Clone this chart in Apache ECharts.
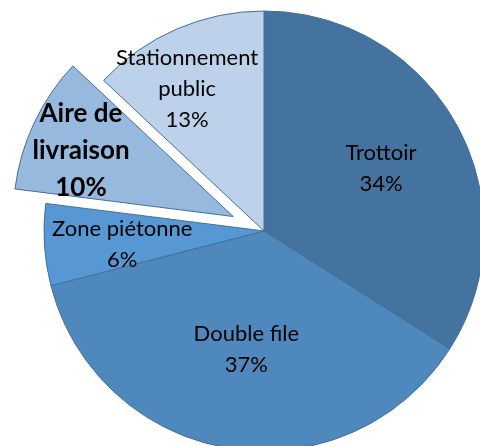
<!DOCTYPE html>
<html>
<head>
<meta charset="utf-8">
<script src="https://cdn.jsdelivr.net/npm/echarts@6/dist/echarts.min.js"></script>
<style>
  html, body { margin: 0; padding: 0; background: #fff; }
  #chart { width: 480px; height: 446px; }
</style>
</head>
<body>
<div id="chart"></div>
<script>
// clockwise from 12 o'clock
const categories = ['Trottoir', 'Double file', 'Zone piétonne', 'Aire de\nlivraison', 'Stationnement\npublic'];
const values = [34, 37, 6, 10, 13];
const colors = ['#44739F', '#4F88BC', '#5798D4', '#97B9DE', '#BDD2EA'];
const highlighted = 'Aire de\nlivraison';

// small nudges so the labels sit where they do in the original
const labelNudge = [[18, -8], [0, 7], [-29, 6], [-50, -18], [-32, -38]];

const chart = echarts.init(document.getElementById('chart'));

const boldLabel = { fontWeight: 'bold', fontSize: 26, lineHeight: 37, color: '#000' };

const data = categories.map((name, i) => {
  const item = {
    name: name,
    value: values[i],
    itemStyle: { color: colors[i] }
  };
  if (name === highlighted) {
    item.selected = true;
    item.label = boldLabel;
    item.select = {
      itemStyle: { color: colors[i], borderColor: '#41719C', borderWidth: 1 },
      label: boldLabel
    };
  }
  return item;
});

chart.setOption({
  backgroundColor: '#fff',
  animation: false,
  series: [
    {
      type: 'pie',
      center: [264, 231],
      radius: 220,
      startAngle: 90,
      clockwise: true,
      selectedMode: 'single',
      selectedOffset: 34,
      avoidLabelOverlap: false,
      itemStyle: {
        borderColor: '#41719C',
        borderWidth: 1
      },
      label: {
        show: true,
        position: 'inside',
        formatter: '{b}\n{d}%',
        color: '#000',
        fontFamily: 'Lato',
        fontSize: 22,
        lineHeight: 31,
        align: 'center'
      },
      labelLine: { show: false },
      labelLayout: function (params) {
        const n = labelNudge[params.dataIndex];
        return { dx: n[0], dy: n[1] };
      },
      emphasis: { disabled: true },
      data: data
    }
  ]
});
</script>
</body>
</html>
